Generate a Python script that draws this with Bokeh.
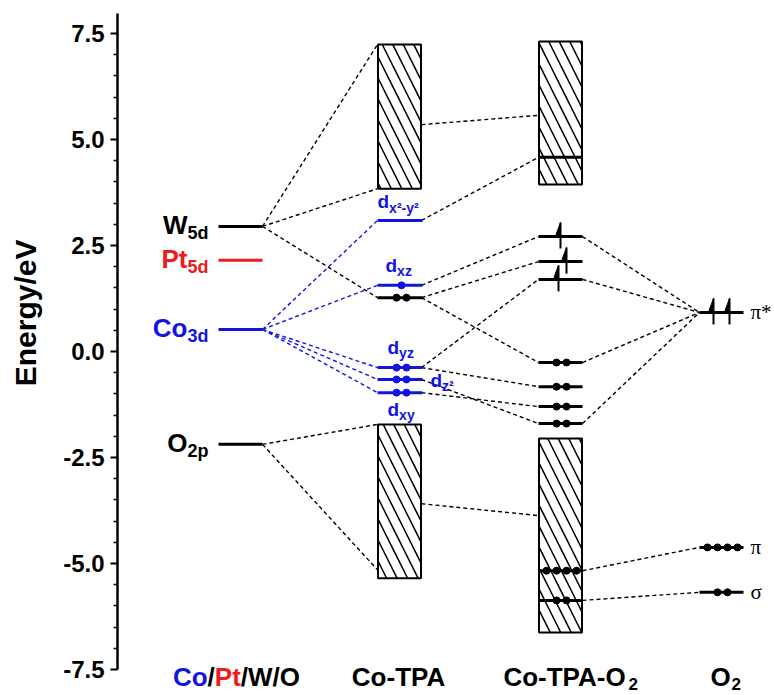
import math
from bokeh.plotting import figure
from bokeh.layouts import row
from bokeh.models import Range1d, LinearAxis, FixedTicker, PrintfTickFormatter
from bokeh.core.properties import value
from bokeh.embed import file_html
from bokeh.resources import INLINE

# ---------------- data (energies in eV) ----------------
columns = ["Co/Pt/W/O", "Co-TPA", "Co-TPA-O", "O"]
column_subs = ["", "", "2", "2"]
y_title = "Energy/eV"

atom_names = ["W", "Pt", "Co", "O"]
atom_subs = ["5d", "5d", "3d", "2p"]
atom_E = [2.95, 2.15, 0.52, -2.19]

tpa_band_top = [7.24, -1.72]
tpa_band_bottom = [3.84, -5.35]
tpa_E = [3.09, 1.56, 1.27, -0.38, -0.66, -0.97]
tpa_is_d = [True, True, False, True, True, True]
tpa_dots = [0, 1, 2, 2, 2, 2]
d_label_level = [0, 1, 3, 4, 5]
d_label_sub = ["x\u00b2-y\u00b2", "xz", "yz", "z\u00b2", "xy"]

cpx_band_top = [7.31, -2.05]
cpx_band_bottom = [3.94, -6.63]
cpx_E = [4.58, 2.71, 2.12, 1.70, -0.26, -0.83, -1.30, -1.70, -5.17, -5.87]
cpx_dots = [0, 0, 0, 0, 2, 2, 2, 2, 4, 2]
cpx_arrows = [0, 1, 1, 1, 0, 0, 0, 0, 0, 0]

o2_names = ["\u03c0*", "\u03c0", "\u03c3"]
o2_E = [0.92, -4.62, -5.68]
o2_dots = [0, 4, 2]
o2_arrows = [2, 0, 0]

# correlation lines (from energy, to energy)
links_01 = [(2.95, 7.24), (2.95, 3.84), (2.95, 1.27), (-2.19, -1.72), (-2.19, -5.15)]
links_01_co = [(0.52, 3.09), (0.52, 1.56), (0.52, -0.38), (0.52, -0.66), (0.52, -0.97)]
links_12 = [(5.35, 5.57), (3.09, 4.58), (1.56, 2.71), (1.27, 2.12), (1.27, -0.26),
            (-0.38, 1.70), (-0.38, -0.83), (-0.66, -1.70), (-0.97, -1.30), (-3.59, -3.87)]
links_23 = [(2.71, 0.92), (1.70, 0.92), (-0.26, 0.92), (-1.70, 0.92), (-5.17, -4.62), (-5.87, -5.68)]

major_ticks = [-7.5, -5.0, -2.5, 0.0, 2.5, 5.0, 7.5]
minor_ticks = [-7.0, -6.5, -6.0, -5.5, -4.5, -4.0, -3.5, -3.0, -2.0, -1.5, -1.0, -0.5,
               0.5, 1.0, 1.5, 2.0, 3.0, 3.5, 4.0, 4.5, 5.5, 6.0, 6.5, 7.0]

# ---------------- layout / style ----------------
W, H = 774, 695
LBL_W = 60                 # narrow figure holding the rotated axis title
LEFT = 117                 # screen x of the y axis line
Y_TOP, Y_BOT = 8.278, -8.113
PX = (Y_TOP - Y_BOT) / H   # eV per screen pixel
col_x = [240, 399, 560, 721]
HW = 22
BLUE = "#1414e0"
RED = "#ee1c1c"
FONT = value("Liberation Sans")
SERIF = value("Liberation Serif")

def bare(fig):
    fig.outline_line_color = None
    fig.xgrid.visible = False
    fig.ygrid.visible = False
    fig.background_fill_color = "white"
    fig.border_fill_color = "white"

# --- title strip ---
t = figure(width=LBL_W, height=H, output_backend="svg", toolbar_location=None, tools="",
           x_range=Range1d(0, LBL_W), y_range=Range1d(Y_BOT, Y_TOP),
           x_axis_location=None, y_axis_location=None,
           min_border_left=0, min_border_right=0, min_border_top=0, min_border_bottom=0)
bare(t)
t.text(x=[25], y=[0.91], text=[y_title], angle=math.pi / 2, text_align="center",
       text_baseline="middle", text_font=FONT, text_font_style="bold",
       text_font_size="30px", text_color="black")

# --- main diagram ---
p = figure(width=W - LBL_W, height=H, output_backend="svg", toolbar_location=None, tools="",
           x_range=Range1d(LEFT, W), y_range=Range1d(Y_BOT, Y_TOP),
           x_axis_location=None, y_axis_location=None,
           min_border_left=LEFT - LBL_W, min_border_right=0, min_border_top=0, min_border_bottom=0)
bare(p)

yaxis = LinearAxis(ticker=FixedTicker(ticks=major_ticks, minor_ticks=minor_ticks),
                   formatter=PrintfTickFormatter(format="%.1f"),
                   bounds=(-7.5, 7.97),
                   axis_line_width=2.5, axis_line_color="black",
                   major_tick_in=0, major_tick_out=7, major_tick_line_width=2,
                   minor_tick_in=0, minor_tick_out=4, minor_tick_line_width=1.5,
                   major_label_text_font="Liberation Sans", major_label_text_font_style="bold",
                   major_label_text_font_size="24px", major_label_standoff=6,
                   major_label_text_color="black")
p.add_layout(yaxis, "left")

# ---- hatched bands ----
band_l, band_r, band_t, band_b = [], [], [], []
for cx, tops, bots in [(col_x[1], tpa_band_top, tpa_band_bottom), (col_x[2], cpx_band_top, cpx_band_bottom)]:
    for tp, b in zip(tops, bots):
        band_l.append(cx - HW + 0.5)
        band_r.append(cx + HW - 0.5)
        band_t.append(tp)
        band_b.append(b)
p.quad(left=band_l, right=band_r, top=band_t, bottom=band_b, fill_color="white",
       line_color="black", line_width=2, hatch_pattern="left_diagonal_line",
       hatch_scale=21, hatch_weight=1.5, hatch_color="black")

# ---- dashed correlation lines ----
def link_segments(links, c0, c1):
    x0 = [col_x[c0] + HW] * len(links)
    x1 = [col_x[c1] - HW] * len(links)
    y0 = [a for a, b in links]
    y1 = [b for a, b in links]
    return x0, y0, x1, y1

for links, c0, c1, color in [(links_01, 0, 1, "black"), (links_01_co, 0, 1, BLUE),
                              (links_12, 1, 2, "black"), (links_23, 2, 3, "black")]:
    x0, y0, x1, y1 = link_segments(links, c0, c1)
    p.segment(x0=x0, y0=y0, x1=x1, y1=y1, line_color=color, line_width=1.4, line_dash="4 3")

# ---- level lines ----
lvl_x0, lvl_x1, lvl_y, lvl_c = [], [], [], []
atom_colors = ["black", RED, BLUE, "black"]
for e, c in zip(atom_E, atom_colors):
    lvl_x0.append(col_x[0] - HW); lvl_x1.append(col_x[0] + HW); lvl_y.append(e); lvl_c.append(c)
tpa_colors = [BLUE if d else "black" for d in tpa_is_d]
for e, c in zip(tpa_E, tpa_colors):
    lvl_x0.append(col_x[1] - HW); lvl_x1.append(col_x[1] + HW + 1); lvl_y.append(e); lvl_c.append(c)
for e in cpx_E:
    lvl_x0.append(col_x[2] - HW); lvl_x1.append(col_x[2] + HW); lvl_y.append(e); lvl_c.append("black")
for e in o2_E:
    lvl_x0.append(col_x[3] - HW); lvl_x1.append(col_x[3] + HW); lvl_y.append(e); lvl_c.append("black")
p.segment(x0=lvl_x0, y0=lvl_y, x1=lvl_x1, y1=lvl_y, line_color=lvl_c, line_width=3, line_cap="butt")

# ---- electrons (dots) ----
dot_x, dot_y, dot_c = [], [], []
def add_dots(cx, e, n, color, spacing=10):
    for k in range(n):
        dot_x.append(cx + (k - (n - 1) / 2) * spacing)
        dot_y.append(e)
        dot_c.append(color)
for e, n, c in zip(tpa_E, tpa_dots, tpa_colors):
    add_dots(col_x[1] + 2, e, n, c)
for e, n in zip(cpx_E, cpx_dots):
    add_dots(col_x[2] + 1, e, n, "black")
for e, n in zip(o2_E, o2_dots):
    add_dots(col_x[3] + 1, e, n, "black")
p.scatter(x=dot_x, y=dot_y, size=7, fill_color=dot_c, line_color=dot_c, marker="circle")

# ---- spin-up half arrows ----
arr_sx, arr_y0, arr_y1, barb_xs, barb_ys = [], [], [], [], []
def add_arrow(x, e):
    top = e + 14 * PX
    arr_sx.append(x); arr_y0.append(e - 12 * PX); arr_y1.append(top)
    barb_xs.append([x, x - 4.5, x])
    barb_ys.append([top, top - 12 * PX, top - 12 * PX])
cpx_arrow_dx = [0, 0, 6, -2, 0, 0, 0, 0, 0, 0]
for e, n, dx in zip(cpx_E, cpx_arrows, cpx_arrow_dx):
    if n:
        add_arrow(col_x[2] + dx, e)
for e, n in zip(o2_E, o2_arrows):
    for k in range(n):
        add_arrow(col_x[3] + (k - (n - 1) / 2) * 16, e)
p.segment(x0=arr_sx, y0=arr_y0, x1=arr_sx, y1=arr_y1, line_color="black", line_width=2)
p.patches(xs=barb_xs, ys=barb_ys, fill_color="black", line_color="black", line_width=1)

# ---- atomic level labels ----
sub_x = col_x[0] - HW - 31
p.text(x=[sub_x] * 4, y=atom_E, text=atom_names, text_color=atom_colors,
       text_font=FONT, text_font_style="bold", text_font_size="26px",
       text_align="right", text_baseline="middle", y_offset=-1)
p.text(x=[sub_x] * 4, y=atom_E, text=atom_subs, text_color=atom_colors,
       text_font=FONT, text_font_style="bold", text_font_size="18px",
       text_align="left", text_baseline="middle", y_offset=7)

# ---- d-orbital labels ----
d_dx = [-22, -14, -12, 31, -12]          # px from column centre
d_dy = [-18.5, -20, -20.5, 1, 16.5]      # px from level to centre of "d"
dl_x = [col_x[1] + dx for dx in d_dx]
dl_y = [tpa_E[i] for i in d_label_level]
p.text(x=dl_x, y=dl_y, text=["d"] * 5, text_color=BLUE, text_font=FONT,
       text_font_style="bold", text_font_size="19px", text_align="left",
       text_baseline="middle", y_offset=d_dy)
p.text(x=[x + 11.6 for x in dl_x], y=dl_y, text=d_label_sub, text_color=BLUE, text_font=FONT,
       text_font_style="bold", text_font_size="14px", text_align="left",
       text_baseline="middle", y_offset=[d + 6 for d in d_dy])

# ---- O2 orbital labels ----
p.text(x=[col_x[3] + HW + 7] * 3, y=o2_E, text=o2_names, text_color="black", text_font=SERIF,
       text_font_size="21px", text_align="left", text_baseline="middle", y_offset=0)

# ---- column (category) labels ----
ARIAL_B = {'C': 722, 'o': 611, '/': 278, 'P': 667, 't': 333, 'W': 944, 'O': 778,
           '-': 333, 'T': 611, 'A': 722}
def tw(s, size):
    return sum(ARIAL_B[c] for c in s) * size / 1000.0

CAT_SIZE = 26
cat_y = Y_BOT + 19 * PX            # centre of capitals 19 px above the bottom edge
pieces_x, pieces_t, pieces_c = [], [], []
parts = [("Co", BLUE), ("/", "black"), ("Pt", RED), ("/W/O", "black")]
assert "".join(s for s, _ in parts) == columns[0]
total = sum(tw(s, CAT_SIZE) for s, _ in parts)
x = col_x[0] - 4 - total / 2
for s, c in parts:
    pieces_x.append(x); pieces_t.append(s); pieces_c.append(c)
    x += tw(s, CAT_SIZE)
cat_shift = [0, 0, 10, 4]
sub_pos_x, sub_pos_t = [], []
for i in range(1, 4):
    name, sub = columns[i], column_subs[i]
    wmain = tw(name, CAT_SIZE)
    wsub = 10 if sub else 0
    x0 = col_x[i] + cat_shift[i] - (wmain + wsub) / 2
    pieces_x.append(x0); pieces_t.append(name); pieces_c.append("black")
    if sub:
        sub_pos_x.append(x0 + wmain + 1); sub_pos_t.append(sub)
p.text(x=pieces_x, y=[cat_y] * len(pieces_x), text=pieces_t, text_color=pieces_c,
       text_font=FONT, text_font_style="bold", text_font_size=f"{CAT_SIZE}px",
       text_align="left", text_baseline="middle")
p.text(x=sub_pos_x, y=[cat_y] * len(sub_pos_x), text=sub_pos_t, text_color="black",
       text_font=FONT, text_font_style="bold", text_font_size="17px",
       text_align="left", text_baseline="middle", y_offset=7)

layout = row(t, p, spacing=0)
open("out.html", "w").write(file_html(layout, INLINE))
